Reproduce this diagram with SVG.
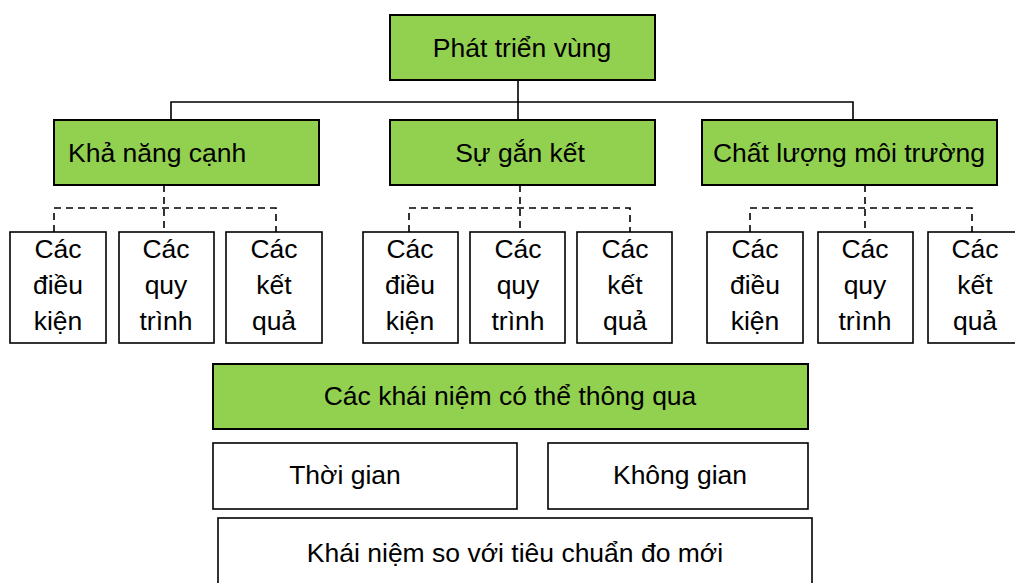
<svg xmlns="http://www.w3.org/2000/svg" width="1015" height="583" viewBox="0 0 1015 583">
<style>
.g{fill:#92D050;stroke:#000;stroke-width:2}
.w{fill:#fff;stroke:#000;stroke-width:1.6}
text{font-family:"Liberation Sans",Arial,sans-serif;font-size:26.5px;fill:#000}
.c{text-anchor:middle}
.ln{fill:none;stroke:#000;stroke-width:1.6}
.d{fill:none;stroke:#000;stroke-width:1.6;stroke-dasharray:7,5}
</style>
<rect width="1015" height="583" fill="#fff"/>
<g id="connectors">
<path class="ln" d="M518 80V120M171 120V102H853V120"/>
<path class="d" d="M164 185V232M54 232V208H276V232"/>
<path class="d" d="M520 185V232M409 232V208H630V232"/>
<path class="d" d="M865 185V232M750 232V208H972V232"/>
</g>
<g id="root"><rect class="g" x="390" y="15" width="265" height="65"/><text class="c" x="522" y="57">Phát triển vùng</text></g>
<g id="kha-nang-canh"><rect class="g" x="54" y="120" width="265" height="65"/><text x="68" y="162">Khả năng cạnh</text></g>
<g id="su-gan-ket"><rect class="g" x="390" y="120" width="265" height="65"/><text class="c" x="520" y="162">Sự gắn kết</text></g>
<g id="chat-luong"><rect class="g" x="702" y="120" width="295" height="65"/><text class="c" x="849" y="162">Chất lượng môi trường</text></g>

<g id="g1-dieu-kien"><rect class="w" x="10" y="232" width="96" height="111"/><text class="c" x="58" y="258">Các</text><text class="c" x="58" y="294">điều</text><text class="c" x="58" y="330">kiện</text></g>
<g id="g1-quy-trinh"><rect class="w" x="119" y="232" width="95" height="111"/><text class="c" x="166" y="258">Các</text><text class="c" x="166" y="294">quy</text><text class="c" x="166" y="330">trình</text></g>
<g id="g1-ket-qua"><rect class="w" x="226" y="232" width="96" height="111"/><text class="c" x="274" y="258">Các</text><text class="c" x="274" y="294">kết</text><text class="c" x="274" y="330">quả</text></g>

<g id="g2-dieu-kien"><rect class="w" x="363" y="232" width="95" height="111"/><text class="c" x="410" y="258">Các</text><text class="c" x="410" y="294">điều</text><text class="c" x="410" y="330">kiện</text></g>
<g id="g2-quy-trinh"><rect class="w" x="470" y="232" width="95" height="111"/><text class="c" x="518" y="258">Các</text><text class="c" x="518" y="294">quy</text><text class="c" x="518" y="330">trình</text></g>
<g id="g2-ket-qua"><rect class="w" x="577" y="232" width="95" height="111"/><text class="c" x="625" y="258">Các</text><text class="c" x="625" y="294">kết</text><text class="c" x="625" y="330">quả</text></g>

<g id="g3-dieu-kien"><rect class="w" x="707" y="232" width="96" height="111"/><text class="c" x="755" y="258">Các</text><text class="c" x="755" y="294">điều</text><text class="c" x="755" y="330">kiện</text></g>
<g id="g3-quy-trinh"><rect class="w" x="818" y="232" width="95" height="111"/><text class="c" x="865" y="258">Các</text><text class="c" x="865" y="294">quy</text><text class="c" x="865" y="330">trình</text></g>
<g id="g3-ket-qua"><rect class="w" x="928" y="232" width="96" height="111"/><text class="c" x="975" y="258">Các</text><text class="c" x="975" y="294">kết</text><text class="c" x="975" y="330">quả</text></g>

<g id="khai-niem"><rect class="g" x="213" y="364" width="595" height="65"/><text class="c" x="510" y="405">Các khái niệm có thể thông qua</text></g>
<g id="thoi-gian"><rect class="w" x="213" y="443" width="304" height="66"/><text class="c" x="345" y="484">Thời gian</text></g>
<g id="khong-gian"><rect class="w" x="548" y="443" width="260" height="66"/><text class="c" x="680" y="484">Không gian</text></g>
<g id="tieu-chuan"><rect class="w" x="218" y="518" width="594" height="72"/><text class="c" x="515" y="562">Khái niệm so với tiêu chuẩn đo mới</text></g>
</svg>
